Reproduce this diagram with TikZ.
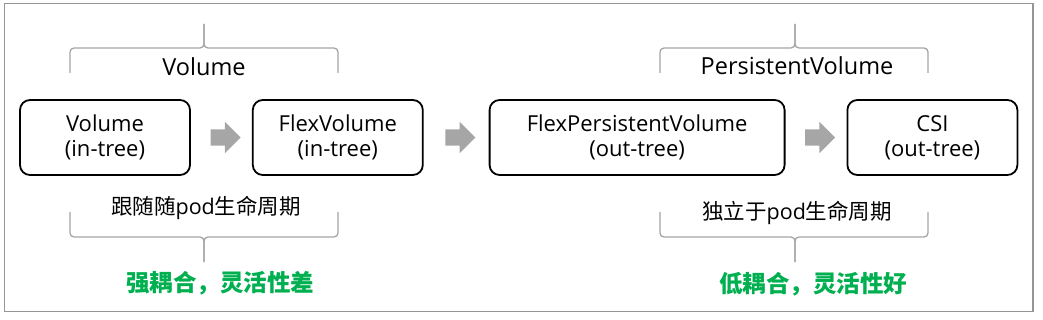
\documentclass[tikz,border=0pt]{standalone}
\usepackage{fontspec}
\setmainfont{Open Sans}
\newfontfamily\cjk{Noto Sans CJK SC}
\usetikzlibrary{positioning,calc,shapes.arrows}
\definecolor{braceGray}{RGB}{165,165,165}
\definecolor{arrowGray}{RGB}{166,166,166}
\definecolor{frameGray}{RGB}{150,150,150}
\definecolor{goodGreen}{RGB}{0,176,80}

\begin{document}
\begin{tikzpicture}[
    x=1pt, y=-1pt,
    box/.style={draw, line width=1.8pt, rounded corners=10pt, minimum height=75pt, align=center, font=\fontsize{22}{25}\selectfont, inner sep=0pt},
    flow/.style={single arrow, fill=arrowGray, draw=none, minimum height=30pt, inner xsep=0pt, inner ysep=8pt, single arrow head extend=7.5pt},
    brace/.style={braceGray, line width=1.3pt, rounded corners=4pt},
    groupname/.style={font=\fontsize{23.5}{26}\selectfont, inner sep=0pt},
    lifecycle/.style={font=\fontsize{21.5}{24}\selectfont, inner sep=0pt},
    verdict/.style={text=goodGreen, font=\cjk\bfseries\fontsize{23.5}{26}\selectfont, inner sep=0pt}
]
  \useasboundingbox (0,0) rectangle (1043,320);
  \draw[frameGray, line width=1.5pt] (4.5,3.5) rectangle (1033,311.5);

  % Boxes
  \node (vol) [box, minimum width=170pt] at (105,137.5) {Volume\\(in-tree)};
  \node (flex) [box, minimum width=170pt, right=61pt of vol] {FlexVolume\\(in-tree)};
  \node (fpv) [box, minimum width=295pt, right=65pt of flex] {FlexPersistentVolume\\(out-tree)};
  \node (csi) [box, minimum width=170pt, right=61pt of fpv] {CSI\\(out-tree)};

  % Arrows
  \node (a1) [flow] at ($(vol.east)!0.5!(flex.west)$) {};
  \node (a2) [flow] at ($(flex.east)!0.5!(fpv.west)$) {};
  \node (a3) [flow] at ($(fpv.east)!0.5!(csi.west)$) {};

  % Braces
  \draw[brace] (70,73) -- (70,48) -- (204,48) -- (204,24);
  \draw[brace] (338,73) -- (338,48) -- (204,48) -- (204,24);
  \draw[brace] (70,212) -- (70,237) -- (204,237) -- (204,262);
  \draw[brace] (338,212) -- (338,237) -- (204,237) -- (204,262);
  \draw[brace] (660,73) -- (660,48) -- (795,48) -- (795,24);
  \draw[brace] (928,73) -- (928,48) -- (795,48) -- (795,24);
  \draw[brace] (660,212) -- (660,237) -- (795,237) -- (795,262);
  \draw[brace] (928,212) -- (928,237) -- (795,237) -- (795,262);

  % Labels
  \node (volname) [groupname] at (204,67) {Volume};
  \node (pvname) [groupname] at (797,66) {PersistentVolume};
  \node (follow) [lifecycle] at (206,208) {{\cjk 跟随随}pod{\cjk 生命周期}};
  \node (indep) [lifecycle] at (797,213) {{\cjk 独立于}pod{\cjk 生命周期}};
  \node (strong) [verdict] at (220,283) {强耦合，灵活性差};
  \node (weak) [verdict] at (813,284) {低耦合，灵活性好};
\end{tikzpicture}
\end{document}
